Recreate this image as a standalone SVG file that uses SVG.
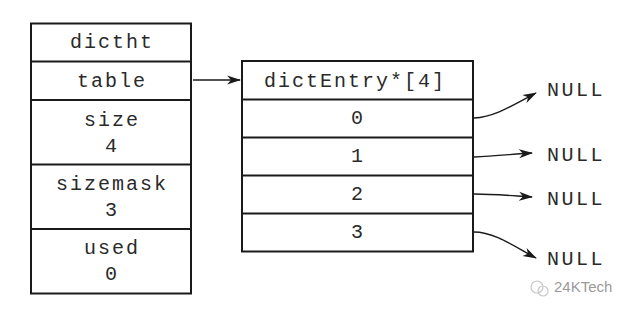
<svg xmlns="http://www.w3.org/2000/svg" width="635" height="322" viewBox="0 0 635 322">
<style>
.box{fill:#fff;stroke:#1a1a1a;stroke-width:2}
.sep{stroke:#1a1a1a;stroke-width:2}
.t{font-family:"Liberation Mono","DejaVu Sans Mono",monospace;font-size:20px;fill:#2a2a2a;text-anchor:middle;letter-spacing:2px}
.n{font-family:"Liberation Mono","DejaVu Sans Mono",monospace;font-size:20px;fill:#2a2a2a;letter-spacing:2.5px}
.c{fill:none;stroke:#1a1a1a;stroke-width:1.4}
.wm{font-family:"Liberation Sans",Arial,sans-serif;font-size:15px;fill:#9a9a9a}
</style>
<defs>
<marker id="ah" markerWidth="14" markerHeight="10" refX="13" refY="5" orient="auto" markerUnits="userSpaceOnUse">
<path d="M0,0.5 L14,5 L0,9.5 L4,5 Z" fill="#1a1a1a"/>
</marker>
</defs>
<rect width="635" height="322" fill="#fff"/>
<g id="dictht">
<rect class="box" x="31" y="23.5" width="160" height="270"/>
<line class="sep" x1="31" y1="61.5" x2="191" y2="61.5"/>
<line class="sep" x1="31" y1="100" x2="191" y2="100"/>
<line class="sep" x1="31" y1="164.5" x2="191" y2="164.5"/>
<line class="sep" x1="31" y1="229" x2="191" y2="229"/>
<text class="t" x="112" y="48">dictht</text>
<text class="t" x="112" y="87">table</text>
<text class="t" x="112" y="126">size</text>
<text class="t" x="112" y="152">4</text>
<text class="t" x="112" y="190">sizemask</text>
<text class="t" x="112" y="216">3</text>
<text class="t" x="112" y="254">used</text>
<text class="t" x="112" y="280">0</text>
</g>
<g id="dictEntry">
<rect class="box" x="242" y="61" width="231" height="190.5"/>
<line class="sep" x1="242" y1="99.5" x2="473" y2="99.5"/>
<line class="sep" x1="242" y1="137.5" x2="473" y2="137.5"/>
<line class="sep" x1="242" y1="175.5" x2="473" y2="175.5"/>
<line class="sep" x1="242" y1="213.5" x2="473" y2="213.5"/>
<text class="t" x="355" y="87">dictEntry*[4]</text>
<text class="t" x="358" y="124">0</text>
<text class="t" x="358" y="162">1</text>
<text class="t" x="358" y="200">2</text>
<text class="t" x="358" y="238">3</text>
</g>
<g id="null0"><text class="n" x="547" y="96">NULL</text></g>
<g id="null1"><text class="n" x="547" y="161">NULL</text></g>
<g id="null2"><text class="n" x="547" y="205">NULL</text></g>
<g id="null3"><text class="n" x="547" y="265">NULL</text></g>
<g id="connectors">
<path class="c" d="M193,80 L240,80" marker-end="url(#ah)"/>
<path class="c" d="M474,118 C495,117 515,104 536,93" marker-end="url(#ah)"/>
<path class="c" d="M474,157 C495,156 515,154 532,153" marker-end="url(#ah)"/>
<path class="c" d="M474,194 C495,194 515,196 532,197" marker-end="url(#ah)"/>
<path class="c" d="M474,232 C495,232 515,247 536,258" marker-end="url(#ah)"/>
</g>
<g id="watermark">
<circle cx="537" cy="287" r="6" fill="none" stroke="#c8c8c8" stroke-width="1.2"/>
<circle cx="543" cy="291" r="5" fill="none" stroke="#c8c8c8" stroke-width="1.2"/>
<text class="wm" x="554" y="292">24KTech</text>
</g>
</svg>
